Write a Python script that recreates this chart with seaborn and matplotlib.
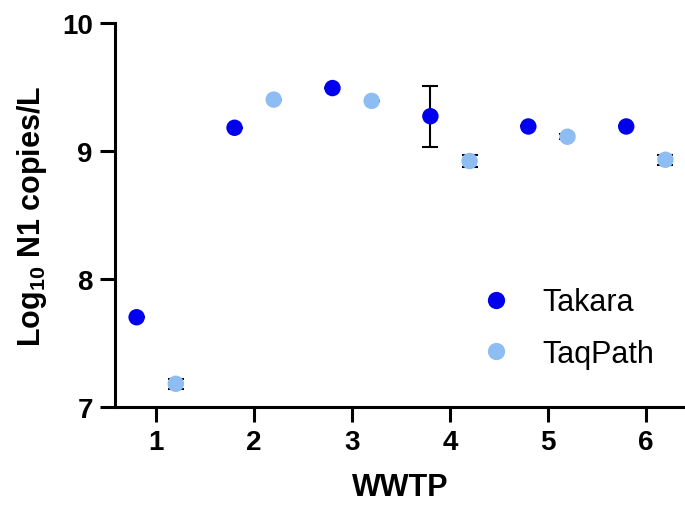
import numpy as np
import pandas as pd
import seaborn as sns
import matplotlib
matplotlib.use("Agg")
import matplotlib.pyplot as plt

# data
wwtp = [1, 2, 3, 4, 5, 6]
takara = [7.70, 9.18, 9.49, 9.27, 9.19, 9.19]
takara_err = [0.0, 0.0, 0.0, 0.24, 0.0, 0.0]
taqpath = [7.18, 9.40, 9.39, 8.92, 9.11, 8.93]
taqpath_err = [0.04, 0.0, 0.0, 0.05, 0.02, 0.04]

kits = ["Takara", "TaqPath"]
colors = {"Takara": "#0000EE", "TaqPath": "#8EBDF3"}
offset = {"Takara": -0.2, "TaqPath": 0.2}

df = pd.DataFrame({
    "WWTP": wwtp * 2,
    "value": takara + taqpath,
    "err": takara_err + taqpath_err,
    "kit": ["Takara"] * 6 + ["TaqPath"] * 6,
})
df["x"] = df["WWTP"] + df["kit"].map(offset)

sns.set_style("ticks")
plt.rcParams["font.family"] = ["Liberation Sans", "DejaVu Sans"]
plt.rcParams["mathtext.fontset"] = "custom"
plt.rcParams["mathtext.bf"] = "Liberation Sans:bold"
plt.rcParams["mathtext.rm"] = "Liberation Sans:bold"
plt.rcParams["mathtext.default"] = "bf"
for key in ["text.color", "axes.labelcolor", "xtick.color", "ytick.color", "axes.edgecolor"]:
    plt.rcParams[key] = "black"

fig = plt.figure(figsize=(6.85, 5.06), dpi=100)
ax = fig.add_axes([0.168, 0.194, 0.832, 0.759])

for k in kits:
    d = df[df["kit"] == k]
    ax.errorbar(d["x"], d["value"], yerr=d["err"], fmt="none", ecolor="black",
                elinewidth=1.5, capsize=5.5, capthick=1.5, zorder=1)

sns.scatterplot(data=df, x="x", y="value", hue="kit", hue_order=kits,
                palette=colors, s=140, edgecolor="none", ax=ax, zorder=3)

ax.set_xlim(0.58, 6.4)
ax.set_ylim(7, 10)
ax.set_xticks(wwtp)
ax.set_yticks([7, 8, 9, 10])
ax.tick_params(axis="both", length=11, width=2.2, labelsize=20, pad=5)
for lab in ax.get_xticklabels() + ax.get_yticklabels():
    lab.set_fontweight("bold")
for side in ["left", "bottom"]:
    ax.spines[side].set_linewidth(2.2)
sns.despine(ax=ax)

ax.set_xlabel("WWTP", fontsize=22, fontweight="bold", labelpad=12)
ax.set_ylabel("Log$_{10}$ N1 copies/L", fontsize=22, fontweight="bold", labelpad=9)

leg = ax.legend(loc="center left", bbox_to_anchor=(0.680, 0.350),
                bbox_transform=fig.transFigure, frameon=False, borderpad=0,
                borderaxespad=0, fontsize=22, labelspacing=0.7,
                handletextpad=0.5, markerscale=1.05)
leg.set_title(None)

fig.savefig("out.png", dpi=100)
